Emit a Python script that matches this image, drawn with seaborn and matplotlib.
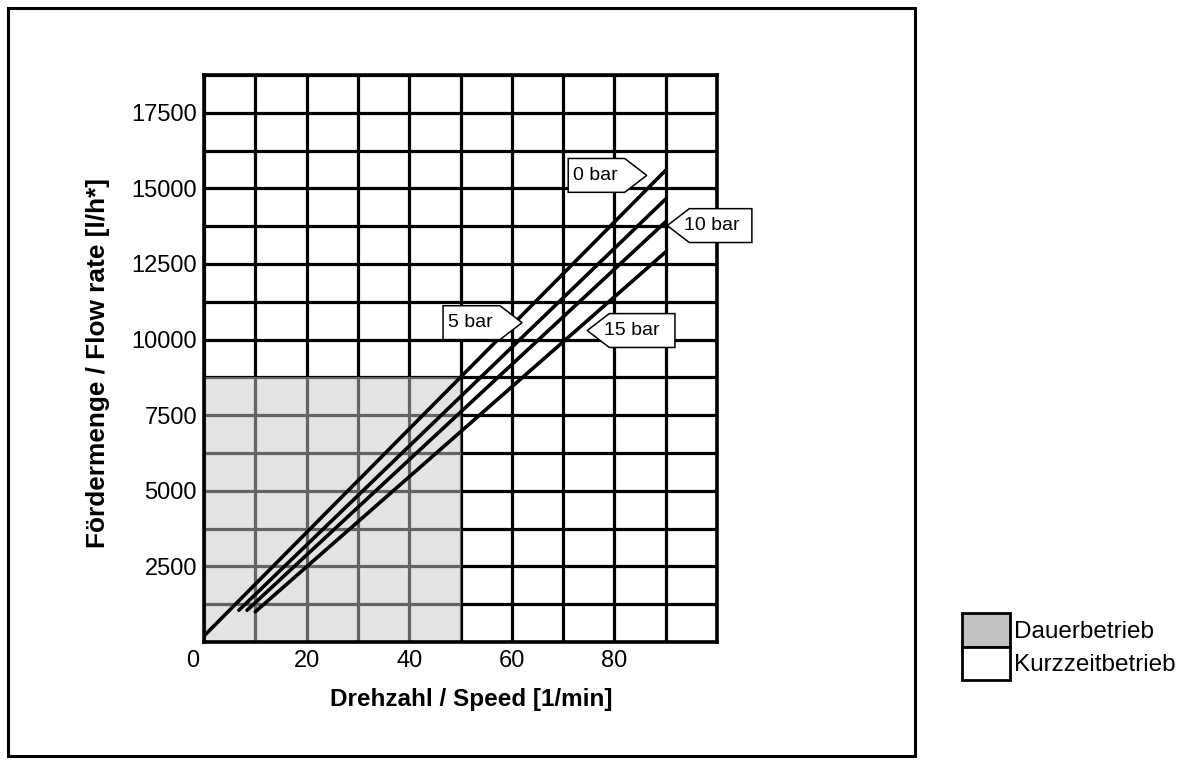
import matplotlib
matplotlib.use("Agg")
import matplotlib.pyplot as plt
import matplotlib.transforms as mtransforms
import seaborn as sns
import pandas as pd
from matplotlib.patches import Patch, Polygon, Rectangle
from matplotlib.ticker import MultipleLocator

# curve end points (speed in 1/min, flow in l/h)
pressures = ["0 bar", "5 bar", "10 bar", "15 bar"]
speed_start = [0.0, 6.8, 8.4, 10.0]
flow_start = [200, 1050, 1050, 1000]
speed_end = [90, 90, 90, 90]
flow_end = [15600, 14650, 13900, 12900]

# continuous duty area
duty_speed_max = 50
duty_flow_max = 8750

# tag labels: tip position, direction (1 = points right), total width
tag_tip_x = [86.3, 62.0, 90.3, 74.7]
tag_tip_y = [15430, 10560, 13770, 10300]
tag_dir = [1, 1, -1, -1]
tag_width = [15.3, 15.4, 16.5, 17.1]

x_ticks = [0, 20, 40, 60, 80]
y_ticks = [2500, 5000, 7500, 10000, 12500, 15000, 17500]

rows = []
for i, p in enumerate(pressures):
    rows.append({"pressure": p, "speed": speed_start[i], "flow": flow_start[i]})
    rows.append({"pressure": p, "speed": speed_end[i], "flow": flow_end[i]})
df = pd.DataFrame(rows)

sns.set_style("white")
plt.rcParams["font.family"] = ["Liberation Sans", "DejaVu Sans"]
plt.rcParams["text.color"] = "black"
plt.rcParams["axes.labelcolor"] = "black"
plt.rcParams["xtick.color"] = "black"
plt.rcParams["ytick.color"] = "black"

fig = plt.figure(figsize=(11.93, 7.64), dpi=100)
ax = fig.add_axes([204 / 1193, 1 - 642 / 764, 513 / 1193, 567 / 764])

# grid
ax.set_xlim(0, 100)
ax.set_ylim(0, 18750)
ax.xaxis.set_major_locator(plt.FixedLocator(x_ticks))
ax.xaxis.set_minor_locator(MultipleLocator(10))
ax.yaxis.set_major_locator(plt.FixedLocator(y_ticks))
ax.yaxis.set_minor_locator(MultipleLocator(1250))
ax.grid(True, which="both", color="black", linewidth=2.3, zorder=0.5)
ax.set_axisbelow(True)
ax.tick_params(which="both", length=0, labelsize=17)
ax.tick_params(axis="x", pad=6)
ax.tick_params(axis="y", pad=5)
for s in ax.spines.values():
    s.set_linewidth(2.6)
    s.set_color("black")

# shaded duty area
ax.add_patch(Rectangle((0, 0), duty_speed_max, duty_flow_max,
                       facecolor="#c8c8c8", alpha=0.5, edgecolor="none", zorder=1))

sns.lineplot(data=df, x="speed", y="flow", hue="pressure",
             palette=["black"] * 4, linewidth=2.6, legend=False, ax=ax, zorder=3)

# pentagon tags
hh = 560
depth = 4.3
for i, txt in enumerate(pressures):
    xt, yt, d, w = tag_tip_x[i], tag_tip_y[i], tag_dir[i], tag_width[i]
    if d == 1:
        x0 = xt - w
        pts = [(x0, yt - hh), (xt - depth, yt - hh), (xt, yt),
               (xt - depth, yt + hh), (x0, yt + hh)]
        tx = x0 + 1.0
    else:
        x1 = xt + w
        pts = [(x1, yt - hh), (xt + depth, yt - hh), (xt, yt),
               (xt + depth, yt + hh), (x1, yt + hh)]
        tx = xt + 3.2
    ax.add_patch(Polygon(pts, closed=True, facecolor="white", edgecolor="black",
                         linewidth=1.1, zorder=4, clip_on=False))
    ax.text(tx, yt, txt, fontsize=14, ha="left", va="center", zorder=5, clip_on=False)

ax.set_xlabel("Drehzahl / Speed [1/min]", fontsize=17.5, fontweight="bold")
ax.set_ylabel("Fördermenge / Flow rate [l/h*]", fontsize=18.9, fontweight="bold")
ax.xaxis.label.set_verticalalignment("center")
ax.yaxis.label.set_verticalalignment("center")
ax.xaxis.set_label_coords(0.52, -0.102)
ax.yaxis.set_label_coords(-0.207, 0.492)

# first x label sits a little left of its grid line in the original
fig.canvas.draw()
lab0 = ax.get_xticklabels()[0]
lab0.set_transform(lab0.get_transform() + mtransforms.ScaledTranslation(-0.11, 0, fig.dpi_scale_trans))

# outer frame
fig.patches.append(Rectangle((8 / 1193, 8 / 764), 907 / 1193, 748 / 764,
                             transform=fig.transFigure, fill=False,
                             edgecolor="black", linewidth=2.2))

handles = [Patch(facecolor="#c0c0c0", edgecolor="black", linewidth=2.0),
           Patch(facecolor="white", edgecolor="black", linewidth=2.0)]
fig.legend(handles, ["Dauerbetrieb", "Kurzzeitbetrieb"], loc="upper left",
           bbox_to_anchor=(962 / 1193, 1 - 613 / 764), frameon=False,
           fontsize=17.5, labelspacing=0, handlelength=1.98, handleheight=1.75,
           handletextpad=0.17, borderpad=0, borderaxespad=0)

fig.savefig("out.png", dpi=100)
